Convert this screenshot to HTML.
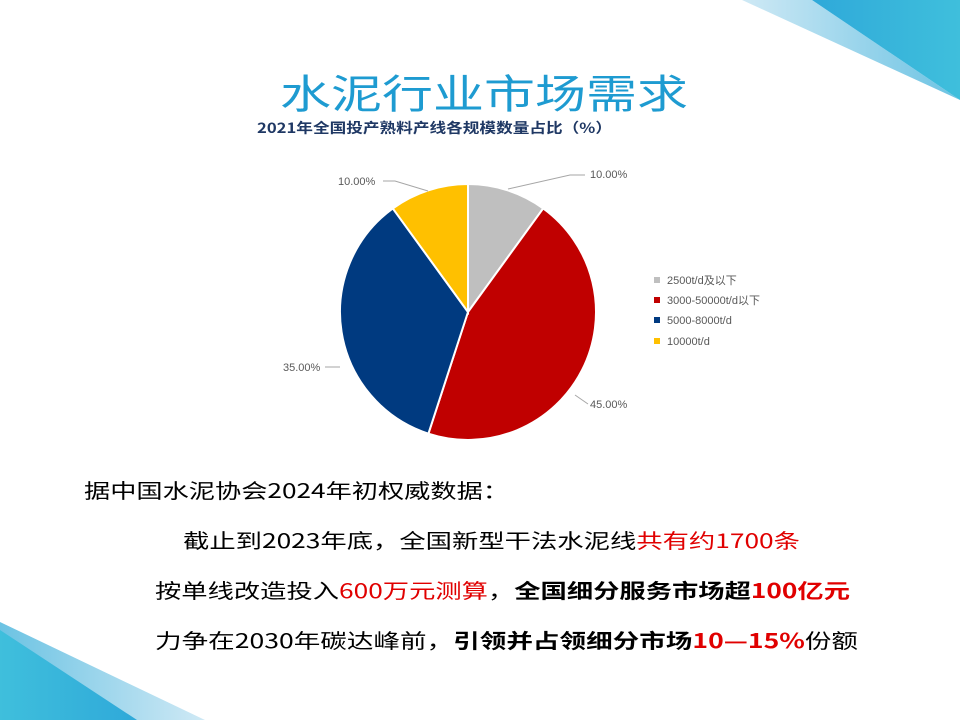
<!DOCTYPE html>
<html><head><meta charset="utf-8"><style>
html,body{margin:0;padding:0;background:#fff;}
svg{display:block;}
</style></head><body>
<svg width="960" height="720" viewBox="0 0 960 720" xmlns="http://www.w3.org/2000/svg">
<defs>
<linearGradient id="gl" x1="0" y1="0" x2="1" y2="0"><stop offset="0" stop-color="#cfe9f5"/><stop offset="1" stop-color="#6cc3e3"/></linearGradient>
<linearGradient id="gd" x1="0" y1="0" x2="1" y2="0"><stop offset="0" stop-color="#2fa9d9"/><stop offset="1" stop-color="#3fbfdc"/></linearGradient>
<linearGradient id="bl" x1="0" y1="0" x2="1" y2="0"><stop offset="0" stop-color="#6cc3e3"/><stop offset="1" stop-color="#cfe9f5"/></linearGradient>
<linearGradient id="bd" x1="0" y1="0" x2="1" y2="0"><stop offset="0" stop-color="#3fbfdc"/><stop offset="1" stop-color="#2fa9d9"/></linearGradient>
</defs>
<polygon points="742,0 812,0 960,100" fill="url(#gl)"/>
<polygon points="812,0 960,0 960,100" fill="url(#gd)"/>
<polygon points="0,622 205,720 0,720" fill="url(#bl)"/>
<polygon points="0,630 137,720 0,720" fill="url(#bd)"/>

<text x="280" y="108" font-family="'Noto Sans CJK SC',sans-serif" font-size="40" fill="#1e9bd1" textLength="408" lengthAdjust="spacingAndGlyphs">水泥行业市场需求</text>
<text x="257" y="133" font-family="'Noto Sans CJK SC',sans-serif" font-weight="bold" font-size="14" fill="#1f3864" textLength="355" lengthAdjust="spacingAndGlyphs">2021年全国投产熟料产线各规模数量占比（%）</text>

<g stroke="#fff" stroke-width="2">
<path d="M468,312 L468,184 A128,128 0 0 1 543.2,208.4 Z" fill="#bfbfbf"/>
<path d="M468,312 L543.2,208.4 A128,128 0 0 1 428.4,433.7 Z" fill="#c00000"/>
<path d="M468,312 L428.4,433.7 A128,128 0 0 1 392.8,208.4 Z" fill="#003a80"/>
<path d="M468,312 L392.8,208.4 A128,128 0 0 1 468,184 Z" fill="#ffc000"/>
</g>
<g stroke="#a6a6a6" stroke-width="1" fill="none">
<polyline points="508,189 570,175 585,175"/>
<polyline points="383,181 395,181 428,191"/>
<polyline points="325,367 340,367"/>
<polyline points="575,395 588,404"/>
</g>
<g font-family="'Liberation Sans',sans-serif" font-size="11" fill="#595959">
<text x="590" y="178">10.00%</text>
<text x="338" y="185">10.00%</text>
<text x="283" y="371">35.00%</text>
<text x="590" y="408">45.00%</text>
</g>
<g font-family="'Liberation Sans','Noto Sans CJK SC',sans-serif" font-size="11" fill="#595959">
<rect x="654" y="277" width="6" height="6" fill="#bfbfbf"/><text x="667" y="284">2500t/d及以下</text>
<rect x="654" y="297" width="6" height="6" fill="#c00000"/><text x="667" y="304">3000-50000t/d以下</text>
<rect x="654" y="317" width="6" height="6" fill="#003a80"/><text x="667" y="324">5000-8000t/d</text>
<rect x="654" y="338" width="6" height="6" fill="#ffc000"/><text x="667" y="345">10000t/d</text>
</g>

<g font-family="'Noto Sans CJK SC',sans-serif" font-size="20" fill="#000">
<text x="84" y="498" textLength="425" lengthAdjust="spacingAndGlyphs">据中国水泥协会2024年初权威数据：</text>
<text x="183" y="548" textLength="617" lengthAdjust="spacingAndGlyphs">截止到2023年底，全国新型干法水泥线<tspan fill="#e00000">共有约1700条</tspan></text>
<text x="155" y="598" textLength="695" lengthAdjust="spacingAndGlyphs">按单线改造投入<tspan fill="#e00000">600万元测算</tspan>，<tspan font-weight="bold">全国细分服务市场超</tspan><tspan font-weight="bold" fill="#e00000">100亿元</tspan></text>
<text x="155" y="648" textLength="703" lengthAdjust="spacingAndGlyphs">力争在2030年碳达峰前，<tspan font-weight="bold">引领并占领细分市场</tspan><tspan font-weight="bold" fill="#e00000">10—15%</tspan>份额</text>
</g>
</svg>
</body></html>
